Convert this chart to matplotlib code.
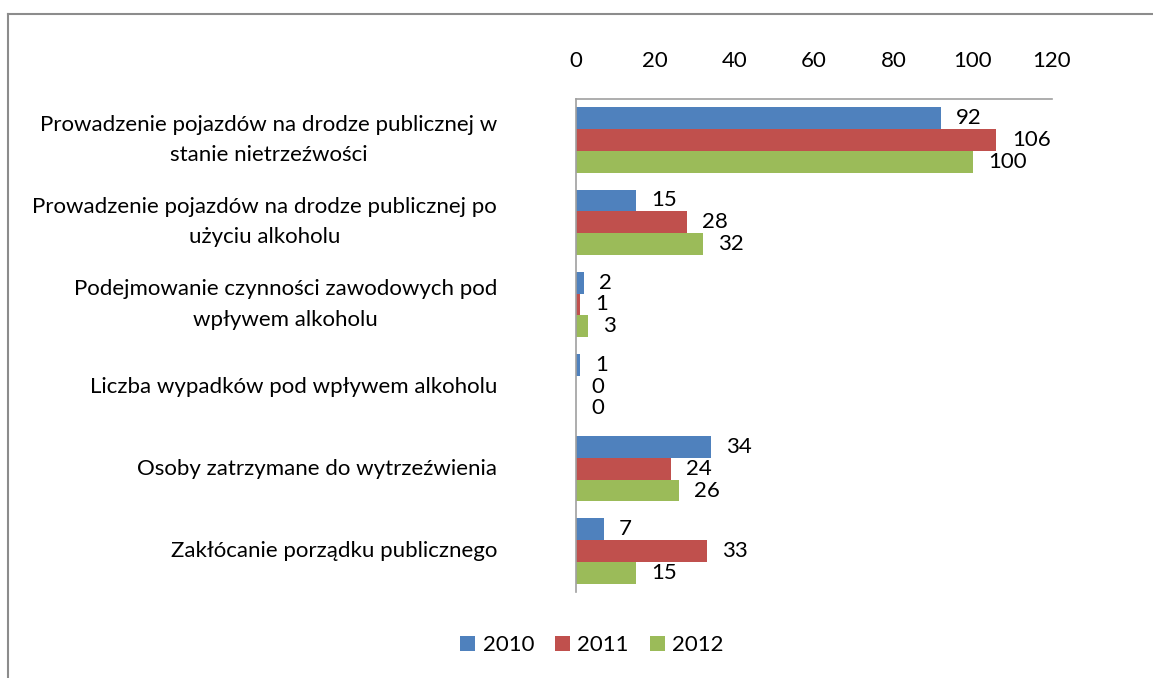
import matplotlib
matplotlib.use("Agg")
import matplotlib.pyplot as plt
from matplotlib.lines import Line2D
import matplotlib.transforms as mtransforms
import numpy as np

categories = [
    "Prowadzenie pojazdów na drodze publicznej w\nstanie nietrzeźwości",
    "Prowadzenie pojazdów na drodze publicznej po\nużyciu alkoholu",
    "Podejmowanie czynności zawodowych pod\nwpływem alkoholu",
    "Liczba wypadków pod wpływem alkoholu",
    "Osoby zatrzymane do wytrzeźwienia",
    "Zakłócanie porządku publicznego",
]
series_names = ["2010", "2011", "2012"]
values_2010 = [92, 15, 2, 1, 34, 7]
values_2011 = [106, 28, 1, 0, 24, 33]
values_2012 = [100, 32, 3, 0, 26, 15]
x_ticks = [0, 20, 40, 60, 80, 100, 120]

colors = ["#4F81BD", "#C0504D", "#9BBB59"]
font = ["Lato", "DejaVu Sans"]
plt.rcParams["font.family"] = font
FS = 16

fig = plt.figure(figsize=(11.53, 6.78), dpi=100)
ax = fig.add_axes([576 / 1153, 1 - 592 / 678, (1052 - 576) / 1153, (592 - 99) / 678])

y = np.arange(len(categories))
h = 0.265
all_vals = [values_2010, values_2011, values_2012]
for i, (name, vals, c) in enumerate(zip(series_names, all_vals, colors)):
    pos = y + (i - 1) * h
    ax.barh(pos, vals, height=h, color=c, label=name, edgecolor="none")
    for yy, v in zip(pos, vals):
        ax.annotate(str(v), (v, yy), xytext=(11, 0), textcoords="offset points",
                    ha="left", va="center", fontsize=FS, color="black")

ax.set_xlim(0, 120)
ax.set_ylim(len(categories) - 0.5, -0.5)
ax.set_xticks(x_ticks)
ax.set_xticklabels([str(t) for t in x_ticks])
ax.xaxis.tick_top()
ax.tick_params(axis="x", length=0, pad=20, labelsize=FS)
ax.set_yticks(y)
ax.set_yticklabels([])
ax.tick_params(axis="y", length=0)

# category labels (centered multi-line, right edge aligned)
trans = mtransforms.blended_transform_factory(fig.transFigure, ax.transData)
for yy, cat in zip(y, categories):
    ax.text(497 / 1153, yy, cat, transform=trans, ha="right", va="center",
            multialignment="center", linespacing=1.65, fontsize=FS, clip_on=False)

for s in ["right", "bottom"]:
    ax.spines[s].set_visible(False)
for s in ["left", "top"]:
    ax.spines[s].set_color("#A0A0A0")
    ax.spines[s].set_linewidth(1.2)

fig.legend(loc="center", bbox_to_anchor=(592 / 1153, 1 - 645 / 678), ncol=3,
           frameon=False, fontsize=FS, handlelength=0.68, handleheight=0.68,
           handletextpad=0.32, columnspacing=0.95)

# outer chart border (left and top)
fig.add_artist(Line2D([8 / 1153, 8 / 1153], [0, 1 - 14 / 678], color="#8C8C8C", lw=1.5,
                      transform=fig.transFigure))
fig.add_artist(Line2D([8 / 1153, 1], [1 - 14 / 678, 1 - 14 / 678], color="#8C8C8C", lw=1.5,
                      transform=fig.transFigure))

fig.savefig("out.png", dpi=100)
